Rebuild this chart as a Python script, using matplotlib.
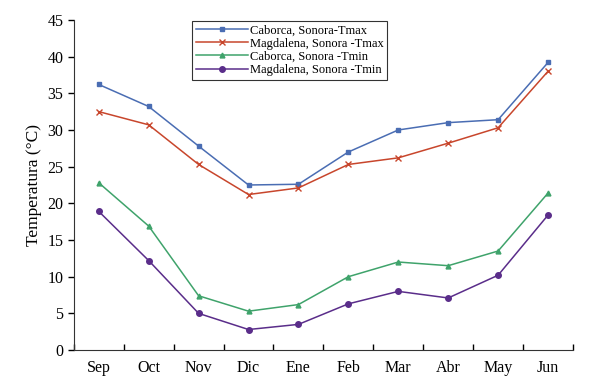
import numpy as np
import matplotlib
matplotlib.use('Agg')
import matplotlib as mpl
import matplotlib.pyplot as plt

mpl.rcParams['font.family'] = ['Liberation Serif', 'DejaVu Serif']

months = ['Sep', 'Oct', 'Nov', 'Dic', 'Ene', 'Feb', 'Mar', 'Abr', 'May', 'Jun']
cab_tmax = [36.2, 33.2, 27.8, 22.5, 22.6, 27.0, 30.0, 31.0, 31.4, 39.2]
mag_tmax = [32.5, 30.7, 25.3, 21.2, 22.1, 25.3, 26.2, 28.2, 30.3, 38.0]
cab_tmin = [22.8, 16.9, 7.4, 5.3, 6.2, 10.0, 12.0, 11.5, 13.5, 21.4]
mag_tmin = [18.9, 12.2, 5.0, 2.8, 3.5, 6.3, 8.0, 7.1, 10.2, 18.4]

fig = plt.figure(figsize=(6, 3.83), dpi=100)
ax = fig.add_axes([0.123, 0.086, 0.832, 0.862])

x = np.arange(len(months))
ax.plot(x, cab_tmax, color='#4a6db3', lw=1.1, marker='s', ms=2.8, label='Caborca, Sonora-Tmax')
ax.plot(x, mag_tmax, color='#c8462c', lw=1.1, marker='x', ms=5, mew=1, label='Magdalena, Sonora -Tmax')
ax.plot(x, cab_tmin, color='#3fa36b', lw=1.1, marker='^', ms=3.5, label='Caborca, Sonora -Tmin')
ax.plot(x, mag_tmin, color='#5a2d8a', lw=1.1, marker='o', ms=4, label='Magdalena, Sonora -Tmin')

ax.set_xlim(-0.5, len(months) - 0.5)
ax.set_ylim(0, 45)
ax.set_yticks(np.arange(0, 46, 5))
ax.set_xticks(x)
ax.set_xticklabels(months)
ax.set_xticks(np.arange(-0.5, len(months), 1), minor=True)
ax.tick_params(axis='x', which='major', length=0, labelsize=11.5, pad=7)
ax.tick_params(axis='x', which='minor', direction='in', length=4, width=1)
ax.tick_params(axis='y', direction='out', length=4, width=1, labelsize=11.5)
ax.set_ylabel('Temperatura (°C)', fontsize=12.5, labelpad=4)

ax.spines['top'].set_visible(False)
ax.spines['right'].set_visible(False)
for s in ['left', 'bottom']:
    ax.spines[s].set_color('#333333')

leg = ax.legend(loc='upper left', bbox_to_anchor=(0.237, 0.998), fontsize=9,
                frameon=True, fancybox=False, handlelength=4.2, borderpad=0.3,
                labelspacing=0.1, handletextpad=0.1, borderaxespad=0)
leg.get_frame().set_edgecolor('black')
leg.get_frame().set_linewidth(0.8)

plt.savefig('out.png', dpi=100)
plt.close()
